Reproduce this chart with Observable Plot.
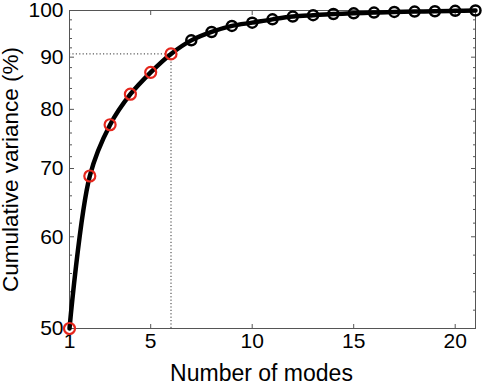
<!DOCTYPE html>
<html><head><meta charset="utf-8">
<script src="https://cdn.jsdelivr.net/npm/d3@7"></script>
<script src="https://cdn.jsdelivr.net/npm/@observablehq/plot@0.6"></script>
<style>html,body{margin:0;padding:0;background:#fff}</style>
</head><body><div id="chart"></div>
<script>
// ---- data ----
const modes = [1,2,3,4,5,6,7,8,9,10,11,12,13,14,15,16,17,18,19,20,21];
const variance = [50, 68.9, 77.4, 82.9, 87.1, 90.7, 93.6, 95.4, 96.7, 97.4, 98.1, 98.7, 99.0, 99.25, 99.4, 99.55, 99.7, 99.77, 99.84, 99.93, 100];
const selectedModes = 6;
const yTickValues = [50, 60, 70, 80, 90, 100];
const yMinorTicks = [52,54,56,58,62,64,66,68,72,74,76,78,82,84,86,88,92,94,96,98];
const xTickValues = [1, 5, 10, 15, 20];
const xTickMarks = [5, 10, 15, 20];
const xLabel = "Number of modes";
const yLabel = "Cumulative variance (%)";

// ---- layout ----
const W = 484, H = 385;
const mL = 69, mR = 9, mT = 10, mB = 57;
const yTop = mT, yBottom = H - mB;
const pxPerDecade = 1020;
// piecewise y scale: log spacing above 60, bottom anchored at 50
const yRange = yTickValues.map(v => v === yTickValues[0] ? yBottom : yTop + (Math.log10(100) - Math.log10(v)) * pxPerDecade);

const data = modes.map((m, i) => ({mode: m, variance: variance[i]}));
const sel = data.filter(d => d.mode === selectedModes);

const red = "#e5261c";
const axisGray = "#555";
const font = "'Liberation Sans', Arial, sans-serif";

const chart = Plot.plot({
  width: W, height: H,
  marginLeft: mL, marginRight: mR, marginTop: mT, marginBottom: mB,
  style: {fontFamily: font, background: "white", overflow: "visible"},
  x: {domain: [1, 21]},
  y: {type: "linear", domain: yTickValues, range: yRange},
  marks: [
    Plot.ruleY(sel, {y: "variance", x1: () => modes[0], x2: "mode", stroke: "#333", strokeWidth: 1, strokeDasharray: "1.2,2.2"}),
    Plot.ruleX(sel, {x: "mode", y1: () => yTickValues[0], y2: "variance", stroke: "#333", strokeWidth: 1, strokeDasharray: "1.2,2.2"}),
    Plot.frame({stroke: axisGray, strokeWidth: 1}),
    // tick marks (inward)
    Plot.axisY(yTickValues, {anchor: "left", tickSize: -5, tickFormat: () => "", label: null, stroke: axisGray}),
    Plot.axisY(yMinorTicks, {anchor: "left", tickSize: -3, tickFormat: () => "", label: null, stroke: axisGray}),
    Plot.axisY(yTickValues, {anchor: "right", tickSize: -5, tickFormat: () => "", label: null, stroke: axisGray}),
    Plot.axisY(yMinorTicks, {anchor: "right", tickSize: -3, tickFormat: () => "", label: null, stroke: axisGray}),
    Plot.axisX(xTickMarks, {anchor: "bottom", tickSize: -4, tickFormat: () => "", label: null, stroke: axisGray}),
    Plot.axisX(xTickMarks, {anchor: "top", tickSize: -4, tickFormat: () => "", label: null, stroke: axisGray}),
    // tick labels
    Plot.axisY(yTickValues, {anchor: "left", tickSize: 0, tickPadding: 6, fontSize: 21, label: null, fill: "black"}),
    Plot.axisX(xTickValues, {anchor: "bottom", tickSize: 0, tickPadding: 5, fontSize: 21, label: null, fill: "black"}),
    // axis titles
    Plot.axisY(yTickValues, {anchor: "left", tickSize: 0, tickFormat: () => "", label: yLabel, labelAnchor: "center", labelArrow: "none", labelOffset: 67, fontSize: 22.5, fill: "black"}),
    Plot.text([xLabel], {frameAnchor: "bottom", dx: -11, dy: 45, fontSize: 23, fill: "black", lineAnchor: "middle"}),
    // data
    Plot.line(data, {x: "mode", y: "variance", stroke: "black", strokeWidth: 4.5, curve: "catmull-rom"}),
    Plot.dot(data.filter(d => d.mode > selectedModes), {x: "mode", y: "variance", r: 5, stroke: "black", strokeWidth: 2.5, fill: "none"}),
    Plot.dot(data.filter(d => d.mode <= selectedModes), {x: "mode", y: "variance", r: 5.5, stroke: red, strokeWidth: 2.2, fill: "none"})
  ]
});
document.getElementById("chart").appendChild(chart);
</script>
</body></html>
